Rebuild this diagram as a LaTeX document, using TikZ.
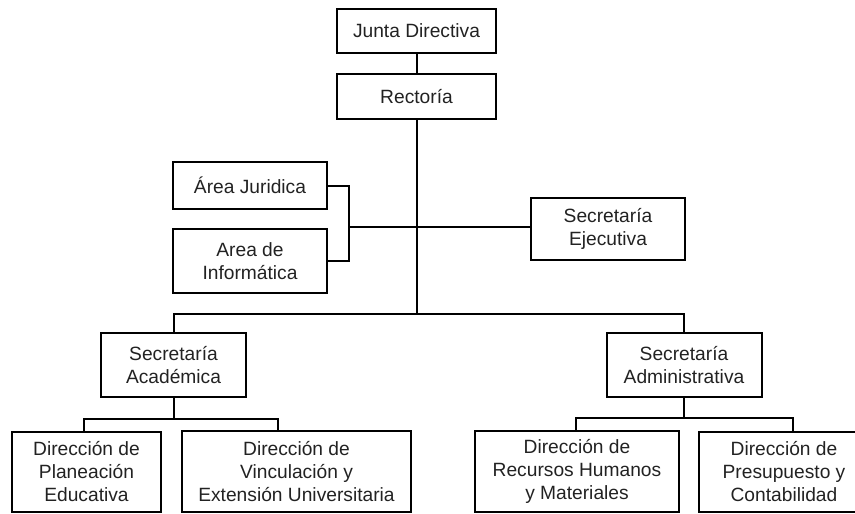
\documentclass[tikz,border=0pt]{standalone}
\usepackage{fontspec}
\setmainfont{Liberation Sans}
\definecolor{txt}{HTML}{222222}
\begin{document}
\begin{tikzpicture}[x=1pt,y=-1pt,
  box/.style={draw=black,line width=2pt,rectangle,inner sep=0pt,align=center,
    text=txt,font=\fontsize{19.2}{23}\selectfont},
  conn/.style={draw=black,line width=2pt}]
\useasboundingbox (0,0) rectangle (855,514);
\clip (0,0) rectangle (855,514);
\node[box,minimum width=159pt,minimum height=44pt] (junta) at (416.5,31) {Junta Directiva};
\node[box,minimum width=159pt,minimum height=45pt] (rector) at (416.5,96.5) {Rectoría};
\node[box,minimum width=154pt,minimum height=47pt] (juridica) at (250,185.5) {Área Juridica};
\node[box,minimum width=154pt,minimum height=64pt] (informatica) at (250,261) {Area de\\Informática};
\node[box,minimum width=154pt,minimum height=62pt] (ejecutiva) at (608,229) {Secretaría\\Ejecutiva};
\node[box,minimum width=145pt,minimum height=64pt] (academica) at (173.5,365) {Secretaría\\Académica};
\node[box,minimum width=155pt,minimum height=64pt] (administrativa) at (684,365) {Secretaría\\Administrativa};
\node[box,minimum width=149pt,minimum height=80pt] (planeacion) at (86.5,472) {Dirección de\\Planeación\\Educativa};
\node[box,minimum width=229pt,minimum height=81pt] (vinculacion) at (296.5,471.5) {Dirección de\\Vinculación y\\Extensión Universitaria};
\node[box,minimum width=204pt,minimum height=81pt] (recursos) at (577,471.5) {Dirección de\\Recursos Humanos\\y Materiales};
\node[box,minimum width=170pt,minimum height=80pt] (presupuesto) at (784,472) {Dirección de\\Presupuesto y\\Contabilidad};
% top spine
\coordinate (bus) at (416.5,314);
\coordinate (jb) at (349,227);
\draw[conn] (junta.south) -- (rector.north);
\draw[conn] (rector.south) -- (bus);
\draw[conn] (juridica.east) -| (jb);
\draw[conn] (informatica.east) -| (jb);
\draw[conn] (jb) -- (jb -| ejecutiva.west);
\draw[conn] (academica.north) |- (bus) -| (administrativa.north);
% academica branch
\coordinate (ab) at (173.5,419);
\coordinate (pl) at (84,419);
\coordinate (vi) at (278,419);
\draw[conn] (academica.south) -- (ab);
\draw[conn] (pl |- planeacion.north) -- (pl) -- (vi) -- (vi |- vinculacion.north);
% administrativa branch
\coordinate (db) at (684,418);
\coordinate (rh) at (576,418);
\coordinate (pc) at (793,418);
\draw[conn] (administrativa.south) -- (db);
\draw[conn] (rh |- recursos.north) -- (rh) -- (pc) -- (pc |- presupuesto.north);
\end{tikzpicture}
\end{document}
